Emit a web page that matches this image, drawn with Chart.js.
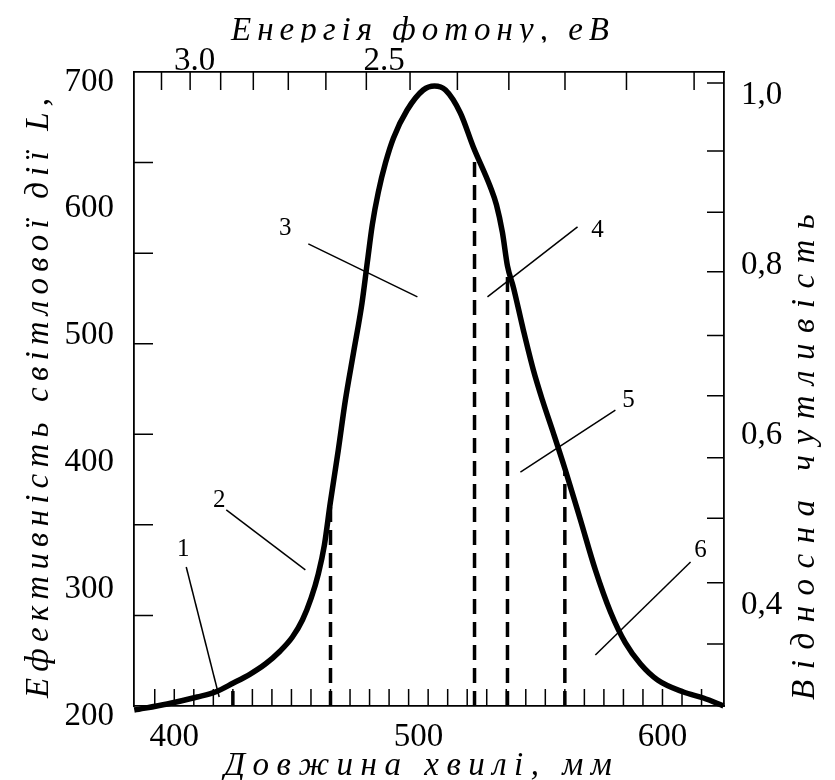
<!DOCTYPE html>
<html>
<head>
<meta charset="utf-8">
<script src="https://cdn.jsdelivr.net/npm/chart.js@4.4.1/dist/chart.umd.min.js"></script>
<style>
  html, body { margin: 0; padding: 0; background: #fff; }
  #wrap { width: 835px; height: 780px; position: relative; }
</style>
</head>
<body>
<div id="wrap"><canvas id="chart"></canvas></div>
<script>
// spectral luminous efficacy curve
const wavelength = [383.6, 397.1, 409.4, 416.8, 424.2, 431.1, 437.3, 443.4, 448.4, 452.5,
  456.1, 459.0, 461.5, 463.9, 467.2, 470.1, 473.4, 476.9, 479.1, 481.1,
  483.6, 486.5, 489.8, 495.4, 502.0, 506.6, 511.1, 517.2, 522.5, 529.5,
  532.0, 534.4, 536.5, 538.9, 543.0, 547.1, 550.8, 555.3, 560.2, 566.4,
  572.5, 578.7, 584.8, 591.0, 598.0, 608.6, 616.8, 625.0];
const efficacy = [196.8, 201.6, 207.1, 211.0, 218.1, 225.2, 233.1, 243.4, 254.4, 267.8,
  285.2, 304.1, 327.0, 360.1, 401.9, 441.3, 478.4, 517.8, 550.2, 579.3,
  605.4, 628.2, 648.0, 670.0, 685.8, 689.0, 685.8, 667.7, 640.9, 609.3,
  595.1, 573.8, 547.0, 530.4, 496.5, 465.0, 441.3, 415.3, 386.1, 346.7,
  307.3, 274.1, 249.7, 233.1, 220.5, 211.0, 206.3, 200.0];

// colour band boundaries (dashed lines)
const bandEdges = [424, 464, 523, 536.5, 560];
const bandTops = [216, 359, 634, 542, 386];

// band numbers and their leader lines
const bandNames = ['1', '2', '3', '4', '5', '6'];
const bandLabelX = [403.7, 418.4, 445.5, 573.4, 586.1, 615.6];
const bandLabelY = [323.8, 362.5, 577.0, 575.4, 441.3, 323.0];
const leaderFromX = [404.9, 421.3, 454.9, 565.2, 580.7, 611.5];
const leaderFromY = [309.6, 354.6, 564.4, 577.8, 433.4, 313.6];
const leaderToX = [418.4, 453.7, 499.6, 528.3, 541.8, 572.5];
const leaderToY = [207.1, 307.3, 522.6, 522.6, 384.5, 240.2];

// tick labels
const xTickLabels = [400, 500, 600];
const energyTickLabels = [3.0, 2.5];
const leftTickLabels = [200, 300, 400, 500, 600, 700];
const rightTickLabels = [0.4, 0.6, 0.8, 1.0];

// inner tick marks
const energyMarks = [3.2, 3.1, 3.0, 2.9, 2.8, 2.7, 2.6, 2.5, 2.4, 2.3, 2.2, 2.1, 2.0];
const leftMarks = [271.4, 342.9, 414.3, 485.7, 557.1, 628.6];
const rightMarks = [1.014, 0.934, 0.862, 0.792, 0.717, 0.646, 0.573, 0.502, 0.426, 0.354];
const bottomMarks = [];
for (let v = 392; v <= 616; v += 8) bottomMarks.push(v);

const serif = "'Liberation Serif', 'DejaVu Serif', serif";
Chart.defaults.font.family = serif;
Chart.defaults.color = '#000';

const datasets = [];
bandEdges.forEach((e, i) => {
  datasets.push({
    data: [{x: e, y: 200}, {x: e, y: bandTops[i]}],
    borderColor: '#000', borderWidth: 3.5, borderDash: [15, 8],
    pointRadius: 0, showLine: true, clip: false
  });
});
bandNames.forEach((n, i) => {
  datasets.push({
    data: [{x: leaderFromX[i], y: leaderFromY[i]}, {x: leaderToX[i], y: leaderToY[i]}],
    borderColor: '#000', borderWidth: 1.5, pointRadius: 0, showLine: true
  });
});
datasets.push({
  data: wavelength.map((w, i) => ({x: w, y: efficacy[i]})),
  borderColor: '#000', borderWidth: 5.5, pointRadius: 0, showLine: true,
  cubicInterpolationMode: 'monotone', clip: false
});

function spaced(ctx, text, x, y, gap) {
  const chars = [...text];
  const widths = chars.map(c => ctx.measureText(c).width);
  const total = widths.reduce((a, b) => a + b, 0) + gap * (chars.length - 1);
  let cx = x - total / 2;
  chars.forEach((c, i) => { ctx.fillText(c, cx, y); cx += widths[i] + gap; });
}

const innerTicks = {
  id: 'innerTicks',
  beforeDatasetsDraw(chart) {
    const {ctx, chartArea: a, scales} = chart;
    ctx.save();
    ctx.strokeStyle = '#000';
    ctx.lineWidth = 1.5;
    ctx.beginPath();
    bottomMarks.forEach(v => {
      const p = scales.x.getPixelForValue(v);
      ctx.moveTo(p, a.bottom); ctx.lineTo(p, a.bottom - 17);
    });
    energyMarks.forEach(e => {
      const p = scales.x2.getPixelForValue(1240 / e);
      ctx.moveTo(p, a.top); ctx.lineTo(p, a.top + 18);
    });
    leftMarks.forEach(v => {
      const p = scales.y.getPixelForValue(v);
      ctx.moveTo(a.left, p); ctx.lineTo(a.left + 19, p);
    });
    rightMarks.forEach(v => {
      const p = scales.y2.getPixelForValue(v);
      ctx.moveTo(a.right, p); ctx.lineTo(a.right - 17, p);
    });
    ctx.stroke();
    ctx.restore();
  }
};

const texts = {
  id: 'texts',
  afterDraw(chart) {
    const {ctx, scales} = chart;
    ctx.save();
    ctx.fillStyle = '#000';
    ctx.textAlign = 'center';
    ctx.textBaseline = 'middle';
    ctx.font = '25px ' + serif;
    bandNames.forEach((n, i) => {
      ctx.fillText(n, scales.x.getPixelForValue(bandLabelX[i]), scales.y.getPixelForValue(bandLabelY[i]));
    });

    ctx.textAlign = 'left';
    ctx.textBaseline = 'alphabetic';
    ctx.font = 'italic 33px ' + serif;
    ctx.save();
    ctx.beginPath(); ctx.rect(0, 0, 835, 42.5); ctx.clip();
    spaced(ctx, 'Енергія фотону, еВ', 420, 40, 6);
    ctx.restore();
    spaced(ctx, 'Довжина хвилі, мм', 418, 775, 7.5);

    ctx.save();
    ctx.translate(48, 398);
    ctx.rotate(-Math.PI / 2);
    spaced(ctx, 'Ефективність світлової дії L,', 0, 0, 6.2);
    ctx.restore();

    ctx.save();
    ctx.translate(814, 457);
    ctx.rotate(-Math.PI / 2);
    spaced(ctx, 'Відносна чутливість', 0, 0, 10.5);
    ctx.restore();
    ctx.restore();
  }
};

const axisBorder = {display: true, color: '#000', width: 1.8};
const tickFont = {size: 33, family: serif};

new Chart(document.getElementById('chart'), {
  type: 'scatter',
  data: {datasets},
  options: {
    responsive: true,
    maintainAspectRatio: false,
    animation: false,
    devicePixelRatio: 1,
    layout: {padding: 0},
    plugins: {legend: {display: false}, tooltip: {enabled: false}},
    scales: {
      x: {
        type: 'linear', position: 'bottom', min: 383.5, max: 625.2,
        grid: {display: false}, border: axisBorder,
        afterBuildTicks: s => { s.ticks = xTickLabels.map(v => ({value: v})); },
        ticks: {font: tickFont, padding: 4, maxRotation: 0, autoSkip: false},
        afterFit: s => { s.height = 74; }
      },
      x2: {
        type: 'linear', position: 'top', min: 375.5, max: 633.05,
        grid: {display: false}, border: axisBorder,
        afterBuildTicks: s => { s.ticks = energyTickLabels.map(e => ({value: 1240 / e})); },
        ticks: {font: tickFont, padding: -17, labelOffset: -26, maxRotation: 0, autoSkip: false,
          callback: v => (1240 / v).toFixed(1)},
        afterFit: s => { s.height = 72; }
      },
      y: {
        type: 'linear', position: 'left', min: 200, max: 700,
        grid: {display: false}, border: axisBorder,
        afterBuildTicks: s => { s.ticks = leftTickLabels.map(v => ({value: v})); },
        ticks: {font: tickFont, padding: 12, labelOffset: 10, autoSkip: false},
        afterFit: s => { s.width = 134; }
      },
      y2: {
        type: 'linear', position: 'right', min: 0.281, max: 1.027,
        grid: {display: false}, border: axisBorder,
        afterBuildTicks: s => { s.ticks = rightTickLabels.map(v => ({value: v})); },
        ticks: {font: tickFont, padding: 9, autoSkip: false,
          callback: v => v.toFixed(1).replace('.', ',')},
        afterFit: s => { s.width = 111; }
      }
    }
  },
  plugins: [innerTicks, texts]
});
</script>
</body>
</html>
